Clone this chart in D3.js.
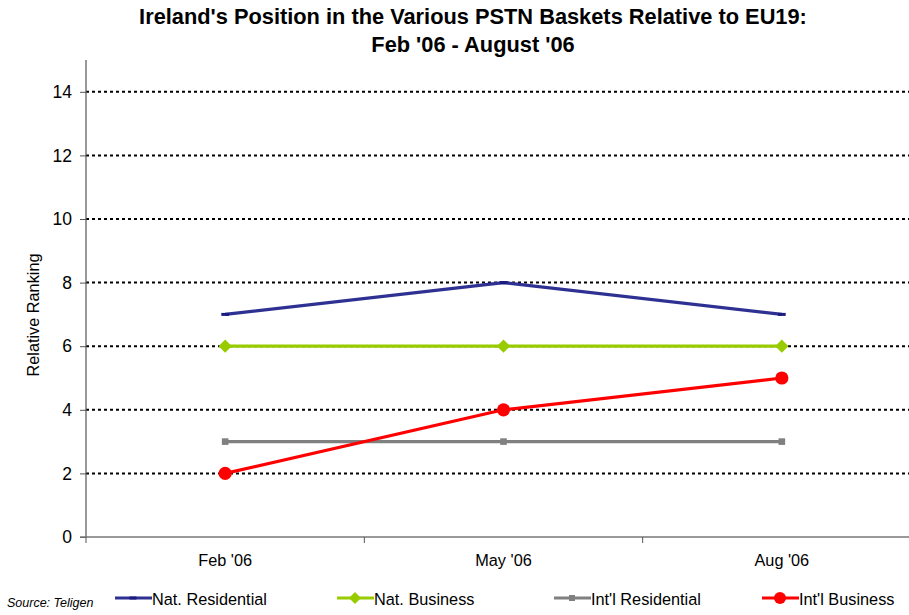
<!DOCTYPE html>
<html>
<head>
<meta charset="utf-8">
<script src="https://cdn.jsdelivr.net/npm/d3@7/dist/d3.min.js"></script>
<style>
  html, body { margin: 0; padding: 0; background: #fff; }
  svg { display: block; font-family: Arial, "Liberation Sans", sans-serif; }
</style>
</head>
<body>
<svg id="chart" width="909" height="615"></svg>
<script>
// Periods on the category axis
const periods = ["Feb '06", "May '06", "Aug '06"];

// Ireland's relative ranking in each PSTN basket
const natResidential = [7, 8, 7];
const natBusiness = [6, 6, 6];
const intlResidential = [3, 3, 3];
const intlBusiness = [2, 4, 5];

// Value-axis tick labels
const yTicks = [0, 2, 4, 6, 8, 10, 12, 14];

const seriesNames = ["Nat. Residential", "Nat. Business", "Int'l Residential", "Int'l Business"];

const series = [
  { name: seriesNames[0], values: natResidential, color: "#2E3192", marker: "dash" },
  { name: seriesNames[1], values: natBusiness, color: "#99CC00", marker: "diamond" },
  { name: seriesNames[2], values: intlResidential, color: "#808080", marker: "square" },
  { name: seriesNames[3], values: intlBusiness, color: "#FF0000", marker: "circle" }
];

const FONT = "Arial, 'Liberation Sans', sans-serif";
const svg = d3.select("#chart");
const plot = { left: 86, right: 921, top: 60, bottom: 537 };

const x = d3.scaleBand().domain(periods).range([plot.left, plot.right]);
const y = d3.scaleLinear().domain([0, 15]).range([plot.bottom, plot.top]);

// Title
const title = svg.append("text")
  .attr("text-anchor", "middle")
  .attr("font-size", 21.8).attr("font-weight", "bold").attr("fill", "#000");
title.append("tspan").attr("x", 473).attr("y", 24).text("Ireland's Position in the Various PSTN Baskets Relative to EU19:");
title.append("tspan").attr("x", 473).attr("y", 52).text("Feb '06 - August '06");

// Dotted horizontal gridlines
svg.append("g").selectAll("line")
  .data(yTicks.filter(d => d > 0))
  .join("line")
  .attr("x1", plot.left).attr("x2", plot.right)
  .attr("y1", d => y(d)).attr("y2", d => y(d))
  .attr("stroke", "#000").attr("stroke-width", 2)
  .attr("stroke-dasharray", "3,3");

// Value axis
const yAxis = svg.append("g")
  .attr("transform", `translate(${plot.left},0)`)
  .call(d3.axisLeft(y).tickValues(yTicks).tickSize(6).tickPadding(8).tickSizeOuter(0));
yAxis.select(".domain").attr("stroke", "#555").attr("stroke-width", 1.2)
  .attr("d", `M0,${plot.top}V${plot.bottom}`);
yAxis.selectAll(".tick line").attr("stroke", "#555");
yAxis.selectAll(".tick text").attr("font-size", 17.5).attr("fill", "#000")
  .attr("font-family", FONT);

// Category axis with ticks at band edges
const xAxis = svg.append("g")
  .attr("transform", `translate(0,${plot.bottom})`);
xAxis.append("line")
  .attr("x1", plot.left - 6).attr("x2", plot.right)
  .attr("y1", 0).attr("y2", 0)
  .attr("stroke", "#777").attr("stroke-width", 1.5);
const edges = periods.map(p => x(p)).concat([x(periods[periods.length - 1]) + x.bandwidth()]);
xAxis.selectAll("line.edge").data(edges).join("line")
  .attr("class", "edge")
  .attr("x1", d => d).attr("x2", d => d)
  .attr("y1", 0).attr("y2", 6)
  .attr("stroke", "#555");
xAxis.selectAll("text").data(periods).join("text")
  .attr("x", d => x(d) + x.bandwidth() / 2)
  .attr("y", 29)
  .attr("text-anchor", "middle")
  .attr("font-size", 16.3).attr("fill", "#000")
  .text(d => d);

// Axis title
svg.append("text")
  .attr("transform", `translate(39,315) rotate(-90)`)
  .attr("text-anchor", "middle")
  .attr("font-size", 16.3).attr("fill", "#000")
  .text("Relative Ranking");

const cx = d => x(d) + x.bandwidth() / 2;

function drawMarker(g, type, color, px, py, scale) {
  const s = scale || 1;
  if (type === "diamond") {
    g.append("path")
      .attr("d", `M${px},${py - 6 * s}L${px + 6 * s},${py}L${px},${py + 6 * s}L${px - 6 * s},${py}Z`)
      .attr("fill", color);
  } else if (type === "square") {
    g.append("rect")
      .attr("x", px - 3 * s).attr("y", py - 3 * s)
      .attr("width", 6 * s).attr("height", 6 * s)
      .attr("fill", color);
  } else if (type === "circle") {
    g.append("circle").attr("cx", px).attr("cy", py).attr("r", 6 * s).attr("fill", color);
  } else if (type === "dash") {
    g.append("rect")
      .attr("x", px - 3.5 * s).attr("y", py - 1.5)
      .attr("width", 7 * s).attr("height", 3)
      .attr("fill", "#1a1a80");
  }
}

// Series lines and markers
const line = d3.line().x(d => cx(d.p)).y(d => y(d.v));
series.forEach(s => {
  const pts = periods.map((p, i) => ({ p, v: s.values[i] }));
  const g = svg.append("g");
  g.append("path")
    .attr("d", line(pts))
    .attr("fill", "none")
    .attr("stroke", s.color)
    .attr("stroke-width", 3.2)
    .attr("stroke-linejoin", "round");
  pts.forEach(d => drawMarker(g, s.marker, s.color, cx(d.p), y(d.v), 1.1));
});

// Legend
const legendX = [115, 337, 554, 762];
const legend = svg.append("g");
series.forEach((s, i) => {
  const lx = legendX[i];
  const ly = 598;
  legend.append("line")
    .attr("x1", lx).attr("x2", lx + 37)
    .attr("y1", ly).attr("y2", ly)
    .attr("stroke", s.color).attr("stroke-width", 3.2);
  drawMarker(legend, s.marker, s.color, lx + 18, ly, 1);
  legend.append("text")
    .attr("x", lx + 37).attr("y", ly + 6.5)
    .attr("font-size", 16.3).attr("fill", "#000")
    .text(s.name);
});

// Source note
svg.append("text")
  .attr("x", 7).attr("y", 607)
  .attr("font-size", 12.5).attr("font-style", "italic").attr("fill", "#000")
  .text("Source: Teligen");
</script>
</body>
</html>
